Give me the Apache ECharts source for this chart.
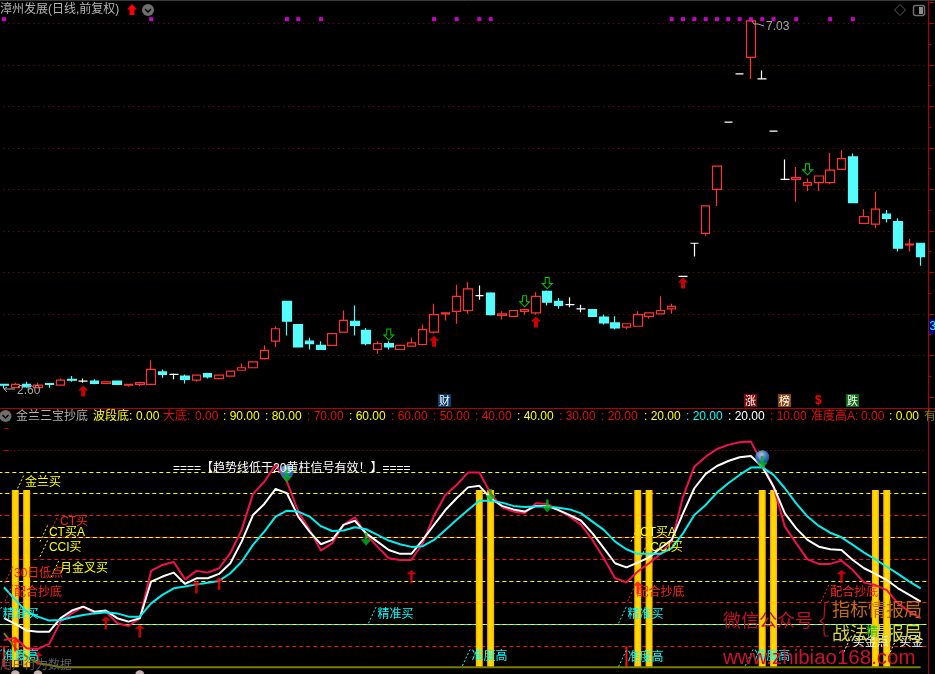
<!DOCTYPE html>
<html><head><meta charset="utf-8">
<style>html,body{margin:0;padding:0;background:#000;overflow:hidden}#c{width:935px;height:674px}</style>
<script src="https://cdn.jsdelivr.net/npm/echarts@6/dist/echarts.min.js"></script>
</head><body><div id="c"></div>
<script>
// ---- price candles (bar 0..81)
const opens=[2.65,2.61,2.65,2.61,2.66,2.64,2.71,2.69,2.69,2.66,2.69,2.64,2.65,2.65,2.80,2.77,2.75,2.70,2.78,2.72,2.75,2.82,2.85,2.96,3.17,3.65,3.37,3.17,3.12,3.12,3.28,3.41,3.30,3.07,3.14,3.07,3.11,3.13,3.28,3.50,3.53,3.54,3.72,3.75,3.48,3.47,3.53,3.51,3.77,3.65,3.61,3.56,3.55,3.46,3.39,3.34,3.35,3.47,3.50,3.56,3.95,4.35,4.47,5.00,5.81,6.39,6.59,6.33,5.70,5.12,5.12,5.05,5.08,5.08,5.24,5.39,4.59,4.58,4.70,4.61,4.33,4.35];
const closes=[2.64,2.65,2.62,2.64,2.65,2.70,2.70,2.69,2.66,2.68,2.65,2.65,2.67,2.83,2.77,2.77,2.71,2.76,2.74,2.76,2.81,2.85,2.92,3.06,3.32,3.41,3.10,3.14,3.07,3.26,3.42,3.36,3.14,3.14,3.10,3.12,3.15,3.31,3.49,3.51,3.71,3.80,3.72,3.49,3.50,3.54,3.55,3.71,3.64,3.60,3.61,3.56,3.47,3.39,3.33,3.38,3.49,3.51,3.54,3.59,3.95,4.35,4.80,5.28,5.81,6.39,7.03,6.33,5.70,5.12,5.14,5.08,5.16,5.23,5.37,4.84,4.67,4.76,4.65,4.29,4.34,4.19];
const lows=[2.60,2.61,2.61,2.60,2.61,2.64,2.68,2.67,2.65,2.66,2.65,2.62,2.63,2.65,2.73,2.71,2.66,2.68,2.72,2.72,2.75,2.82,2.85,2.95,3.10,3.24,3.10,3.07,3.07,3.12,3.28,3.24,3.12,3.02,3.07,3.07,3.11,3.12,3.26,3.42,3.38,3.50,3.67,3.48,3.43,3.47,3.49,3.49,3.60,3.56,3.58,3.52,3.46,3.37,3.31,3.31,3.35,3.44,3.50,3.50,3.95,4.19,4.44,4.80,5.81,6.39,6.33,6.33,5.70,5.12,4.85,4.98,4.98,5.06,5.24,4.84,4.59,4.53,4.60,4.25,4.25,4.08];
const highs=[2.65,2.67,2.68,2.67,2.66,2.72,2.75,2.72,2.71,2.68,2.69,2.65,2.68,2.94,2.83,2.78,2.77,2.76,2.79,2.76,2.81,2.90,2.92,3.12,3.35,3.65,3.37,3.21,3.17,3.27,3.54,3.60,3.33,3.17,3.17,3.12,3.21,3.37,3.62,3.52,3.85,3.88,3.84,3.76,3.53,3.54,3.55,3.76,3.78,3.69,3.70,3.61,3.55,3.49,3.47,3.38,3.53,3.51,3.71,3.62,3.95,4.35,4.80,5.28,5.81,6.39,7.03,6.43,5.70,5.36,5.27,5.13,5.16,5.44,5.47,5.43,4.76,4.97,4.75,4.65,4.40,4.35];
const priceLevelStep=0.5;
const limitBars=[0,13,25,26,28,38,40,42,43,59,60,61,62,63,64,65,66,67,68,70,73,75];
const limitPrice=7.05;
const buyArrowBars=[7,38,47,60];
const buyArrowPrices=[2.57,3.17,3.40,3.87];
const sellArrowBars=[34,46,48,71];
const sellArrowPrices=[3.25,3.65,3.87,5.24];
// ---- indicator lines
const fastLine=[2.9,3.8,-0.9,-1.2,1.1,11.3,15.1,18.2,15.1,15.9,10.6,9.3,12.9,34.6,37.3,38.7,30.7,34.6,33.8,35.8,42.7,53.4,69.9,75.5,83.2,75.5,61.8,53.4,43.9,47.3,55.7,59.2,51.1,45.7,40.4,39.6,39.6,47.3,59.9,69.4,74.0,79.7,79.7,70.2,63.8,61.8,61.0,65.6,65.3,62.5,59.5,55.7,48.8,40.4,31.2,29.4,34.3,38.1,42.4,48.0,68.7,82.4,87.0,90.5,92.4,93.6,93.9,84.0,73.2,54.9,47.3,39.9,37.8,37.8,39.3,35.0,29.2,28.1,25.8,19.7,15.9,12.9];
const midLine=[12.9,10.3,7.2,6.7,6.7,12.9,16.4,18.2,15.9,16.4,12.9,11.3,12.9,29.7,32.0,33.8,28.6,31.2,31.2,33.2,38.1,48.0,60.2,65.3,72.2,70.2,59.5,52.6,46.8,48.8,55.7,57.6,51.8,48.0,44.2,42.4,42.4,48.8,55.7,62.5,67.9,72.9,73.6,67.9,64.4,62.8,61.8,64.4,64.4,62.5,60.2,57.6,51.8,45.0,38.1,36.2,38.4,40.8,45.0,48.8,61.0,72.5,79.1,82.7,85.0,86.7,87.3,82.4,73.2,61.0,54.1,48.8,45.7,44.5,44.2,39.6,35.8,33.2,30.4,26.6,23.6,20.5];
const slowLine=[27.1,21.3,15.9,13.6,11.8,12.1,13.3,14.4,15.1,15.6,15.1,13.6,13.6,19.7,23.6,26.6,27.4,28.4,29.2,30.0,33.5,38.8,46.5,52.6,59.5,62.2,61.8,59.5,55.1,52.9,53.1,54.6,53.7,51.1,48.5,46.8,45.6,45.9,48.8,53.4,58.0,62.5,66.8,66.8,65.9,64.4,63.9,64.1,64.1,63.6,62.8,61.0,57.2,53.4,48.0,44.5,42.4,42.4,42.4,45.0,51.8,60.2,64.8,70.5,74.8,78.6,82.0,82.1,78.6,72.5,65.6,59.5,55.2,52.1,50.0,46.5,43.0,39.9,36.5,33.2,29.7,26.6];
const olivePart=[6.0,-0.9,-4.7,-7.8,-8.6];
const oliveFloor=-9.6;
const oliveLine=opens.map((_,i)=>i<olivePart.length?olivePart[i]:oliveFloor);
const goldBars=[1,2,42,43,56,57,67,68,77,78];
const goldTop=71.7, goldFloor=-9.6;
const redStickBars=[0,55];
const redStickTop=0;
const upBars=[1,3,9,12,17,19,36,56,74];
const upValues=[0.6,-5.5,10.7,7.0,27.2,28.8,32.0,26.9,32.0];
const downBars=[25,32,43,48,67];
const downValues=[78.1,49.1,69.3,64.4,84.3];
const ballBars=[25,67];
const ballValues=[80.1,86.7];
const dotBars=[1,3,12];
const dotValue=-13;
const redLevels=[60,50,40,20,0];
const yellowLevels=[80,70,50,30,10];
const cyanLevels=[10];
const dottedLevels=[90];
// ---- signal captions
const signalTexts=['金兰买','CT买','CT买A','CCI买','月金叉买','30日低点','配合抄底','精准买','准度高','精准买','准度高','精准买','准度高','配合抄底','CT买A','CCI买','配合抄底','准度高','买金点','买金'];
const signalBars=[1.85,4.95,3.97,3.97,4.95,0.88,0.88,-0.1,-0.1,33,41.3,55.1,55.1,55.9,56.2,57.1,73,66.3,75,79.1];
const signalValues=[74.9,57.2,52.1,45.2,35.8,33.2,24.8,14.7,-4.8,14.7,-4.8,14.7,-5.2,24.8,52.1,45.2,24.8,-4.8,1.5,1.5];
const signalColors=['#FFFF00','#FF2020','#FFFF00','#FFFF00','#FFFF00','#FF2020','#FF2020','#00FFFF','#00FFFF','#00FFFF','#00FFFF','#00FFFF','#00FFFF','#FF2020','#FFFF00','#FFFF00','#FF2020','#00FFFF','#FFFFFF','#FFFFFF'];
// ---- header legend of the lower panel
const legendTexts=['金兰三宝抄底','波段底:','0.00','大底:','0.00',': 90.00',': 80.00',': 70.00',': 60.00',': 60.00',': 50.00',': 40.00',': 40.00',': 30.00',': 20.00',': 20.00',': 20.00',': 20.00',': 10.00','准度高A:','0.00',': 0.00','有'];
const legendColors=['#B0B0B0','#FFFF00','#FFFF00','#E01010','#E01010','#FFFF00','#FFFF00','#E01010','#FFFF00','#E01010','#E01010','#E01010','#FFFF00','#E01010','#E01010','#FFFF00','#00FFFF','#FFFFFF','#E01010','#E01010','#E01010','#FFFF00','#808000'];
const legendLefts=[16,93,136,163,195,223,265,307,349,391,433,475,517,559,601,644,686,728,770,811,861,889,924];
const tagTexts=['财','涨','榜','跌'];
const tagLefts=[438,744,778,846];
const tagColors=['#0A3A6A','#7A0A0A','#8B4513','#0A6A14'];

const CJK='"Liberation Sans","Noto Sans CJK SC"';
const font12='12px '+CJK;
const RED='#FF3232',CY='#54FCFC';
const bars=opens.map((_,i)=>String(i));
const txt=(text,x,y,fill,font,z)=>({type:'text',z:z||50,style:{text,x,y,fill,font:font||font12,verticalAlign:'middle'}});
const hline=(x1,y1,x2,y2,c,w,z)=>({type:'line',z:z||40,shape:{x1,y1,x2,y2},style:{stroke:c,lineWidth:w||1}});
const chevron=(cx,cy)=>[
 {type:'circle',z:50,shape:{cx,cy,r:6},style:{fill:'#6E6E6E'}},
 {type:'polyline',z:51,shape:{points:[[cx-3,cy-1],[cx,cy+2],[cx+3,cy-1]]},style:{stroke:'#000',fill:null,lineWidth:1.4}}];

const graphics=[
 hline(0,0.5,935,0.5,'#3A3A3A',1),
 hline(0,408.5,935,408.5,'#B00000',1),
 hline(928.5,0,928.5,674,'#B00000',1),
 txt('漳州发展(日线,前复权)',0,10,'#B4B4B4'),
 {type:'polygon',z:50,shape:{points:[[132,4],[137,9.5],[134.5,9.5],[134.5,15],[129.5,15],[129.5,9.5],[127,9.5]]},style:{fill:'#FF0000'}},
 ...chevron(148,10),
 ...chevron(5.5,416),
 {type:'polygon',z:50,shape:{points:[[900,4.5],[905.5,10],[900,15.5],[894.5,10]]},style:{stroke:'#5A5A5A',fill:null}},
 {type:'rect',z:50,shape:{x:913.5,y:5.5,width:11,height:10,r:2},style:{stroke:'#6E6E6E',fill:null,lineWidth:1.5}},
 {type:'rect',z:50,shape:{x:919,y:7,width:4,height:7},style:{fill:'#8A8A8A'}},
 {type:'polyline',z:50,shape:{points:[[752,21],[754,24],[758,24],[764,26]]},style:{stroke:'#A8A8A8',fill:null}},
 txt('7.03',766,27,'#A8A8A8'),
 {type:'polyline',z:50,shape:{points:[[15,389],[4,389],[7,387]]},style:{stroke:'#A8A8A8',fill:null}},
 {type:'polyline',z:50,shape:{points:[[4,389],[7,392]]},style:{stroke:'#A8A8A8',fill:null}},
 txt('2.60',17,390.5,'#A8A8A8'),
 {type:'rect',z:50,shape:{x:929,y:319,width:6,height:15},style:{fill:'#000080'}},
 txt('3',929.5,326.5,'#00FFFF'),
 ...tagTexts.flatMap((t,i)=>[
   {type:'rect',z:50,shape:{x:tagLefts[i],y:394,width:13,height:13},style:{fill:tagColors[i]}},
   txt(t,tagLefts[i]+1,400.5,'#FFFFFF','11px "Noto Sans CJK SC"')]),
 txt('$',815,401,'#FF0000','bold 12px "Liberation Sans"'),
 ...legendTexts.map((t,i)=>txt(t,legendLefts[i],416.5,legendColors[i])),
 txt('====【趋势线低于20黄柱信号有效！】====',173,468.5,'#FFFFFF'),
 txt('用户行为数据',0,666,'#5E5E5E'),
 txt('微信公众号',723,620,'#C01028','18px "Noto Sans CJK SC"'),
 {type:'polyline',z:50,shape:{points:[[829,601],[825,603],[824,618],[820,621],[824,624],[824,633],[825,636],[829,636]]},style:{stroke:'#C01028',fill:null,lineWidth:1.2}},
 txt('指标情报局',832,609,'#C46A10','18px "Noto Sans CJK SC"'),
 txt('战法情报局',832,633,'#D8D840','18px "Noto Sans CJK SC"'),
 txt('精',866,633,'#20D020'),
 txt('www.zhibiao168.com',723,658,'#D01030','20.5px "Liberation Sans"'),
];

const signalItem=(p,api)=>{
  const pt=api.coord([api.value(0),api.value(1)]);
  const i=p.dataIndex;
  return {type:'group',children:[
    {type:'line',shape:{x1:pt[0]-9,y1:pt[1]+9,x2:pt[0]-1,y2:pt[1]-8},style:{stroke:signalColors[i],lineWidth:1,lineDash:[2,2]}},
    {type:'text',style:{text:signalTexts[i],x:pt[0],y:pt[1],fill:signalColors[i],font:font12,verticalAlign:'middle'}}
  ]};
};
const columnItem=(width,top,floor,fill)=>(p,api)=>{
  const a=api.coord([api.value(0),top]),b=api.coord([api.value(0),floor]);
  return {type:'rect',shape:{x:a[0]-width/2,y:a[1],width,height:b[1]-a[1]},style:{fill}};
};
const levelItems=[
 ...dottedLevels.map(v=>({yAxis:v,lineStyle:{color:'#C00000',type:[1,3],width:1}})),
 ...redLevels.map(v=>({yAxis:v,lineStyle:{color:'#F01414',type:[4,3],width:1}})),
 ...cyanLevels.map(v=>({yAxis:v,lineStyle:{color:'#00FFFF',type:[4,3],dashOffset:3.5,width:1}})),
 ...yellowLevels.map(v=>({yAxis:v,lineStyle:{color:'#FFFF00',type:[4,3],dashOffset:v===50?3.5:0,width:1}})),
];
const arrowUpBig='path://M5 0L10 5L7 5L7 11L3 11L3 5L0 5Z';
const arrowDownHollow='path://M3 0L7 0L7 6L10 6L5 11L0 6L3 6Z';
const arrowUpThin='path://M4 0L8 4L5 4L5 12L3 12L3 4L0 4Z';
const arrowDownThin='path://M3 0L5 0L5 6L8 6L4 12L0 6L3 6Z';

const chart=echarts.init(document.getElementById('c'),null,{renderer:'canvas'});
chart.setOption({
 animation:false,backgroundColor:'#000',
 grid:[{left:-1.66,width:928,top:2.55,height:394.25,outerBoundsMode:'none'},{left:-1.66,width:928,top:428.3,height:261.6,outerBoundsMode:'none'}],
 xAxis:[
  {type:'category',data:bars,gridIndex:0,show:false},
  {type:'category',data:bars,gridIndex:1,show:false},
  {type:'value',min:-0.5,max:81.5,gridIndex:1,show:false}],
 yAxis:[
  {type:'value',gridIndex:0,position:'right',offset:2,min:2.5,max:7.25,interval:priceLevelStep,
   axisLabel:{show:false},axisLine:{show:false},
   axisTick:{show:true,length:6,lineStyle:{color:'#B00000'}},
   minorTick:{show:true,splitNumber:2,length:3,lineStyle:{color:'#B00000'}},
   splitLine:{show:true,showMinLine:false,showMaxLine:false,lineStyle:{color:'#8C1010',type:[1,4],width:1}}},
  {type:'value',gridIndex:1,position:'right',offset:2,min:-20,max:100,interval:10,
   axisLabel:{show:false},axisLine:{show:false},
   axisTick:{show:true,length:5,lineStyle:{color:'#B00000'}},
   splitLine:{show:false}}],
 series:[
  {type:'candlestick',name:'K',xAxisIndex:0,yAxisIndex:0,barWidth:9,z:3,
   data:opens.map((o,i)=>[o,closes[i],lows[i],highs[i]]),
   itemStyle:{color:'#000',color0:CY,borderColor:RED,borderColor0:CY,borderColorDoji:'#FFFFFF',borderWidth:1.2}},
  {type:'scatter',xAxisIndex:0,yAxisIndex:0,symbol:'rect',symbolSize:4,z:4,itemStyle:{color:'#FF00FF'},
   data:limitBars.map(i=>[i,limitPrice])},
  {type:'scatter',xAxisIndex:0,yAxisIndex:0,symbol:arrowUpBig,symbolSize:[10,11],z:4,itemStyle:{color:'#FF0000'},
   data:buyArrowBars.map((b,i)=>[b,buyArrowPrices[i]])},
  {type:'scatter',xAxisIndex:0,yAxisIndex:0,symbol:arrowDownHollow,symbolSize:[10,11],z:4,
   itemStyle:{color:'transparent',borderColor:'#00FF00',borderWidth:1},
   data:sellArrowBars.map((b,i)=>[b,sellArrowPrices[i]])},
  {type:'line',name:'olive',xAxisIndex:1,yAxisIndex:1,data:oliveLine,showSymbol:false,z:3,
   lineStyle:{color:'#7C7C00',width:2},
   markLine:{silent:true,symbol:'none',z:1,label:{show:false},data:levelItems}},
  {type:'custom',xAxisIndex:1,yAxisIndex:1,z:2,clip:false,data:goldBars.map(b=>[b]),
   renderItem:columnItem(7,goldTop,goldFloor,{type:'linear',x:0,y:0,x2:1,y2:0,colorStops:[{offset:0,color:'#FFA800'},{offset:0.3,color:'#FFD800'},{offset:0.7,color:'#FFD800'},{offset:1,color:'#FFA800'}]})},
  {type:'custom',xAxisIndex:1,yAxisIndex:1,z:2,clip:false,data:redStickBars.map(b=>[b]),
   renderItem:columnItem(2,redStickTop,goldFloor,'#FF1010')},
  {type:'line',name:'fast',xAxisIndex:1,yAxisIndex:1,data:fastLine,showSymbol:false,z:4,lineStyle:{color:'#F0104F',width:2}},
  {type:'line',name:'mid',xAxisIndex:1,yAxisIndex:1,data:midLine,showSymbol:false,z:4,lineStyle:{color:'#FFFFFF',width:2}},
  {type:'line',name:'slow',xAxisIndex:1,yAxisIndex:1,data:slowLine,showSymbol:false,z:4,lineStyle:{color:'#00F0F0',width:2}},
  {type:'scatter',xAxisIndex:1,yAxisIndex:1,symbol:arrowUpThin,symbolSize:[10,13],z:5,itemStyle:{color:'#FF0000'},
   data:upBars.map((b,i)=>[b,upValues[i]])},
  {type:'scatter',xAxisIndex:1,yAxisIndex:1,symbol:'circle',symbolSize:14,z:5,
   itemStyle:{color:{type:'radial',x:0.45,y:0.3,r:0.75,colorStops:[{offset:0,color:'#E8F4FF'},{offset:0.45,color:'#4A9CF5'},{offset:1,color:'#123F9A'}]}},
   data:ballBars.map((b,i)=>[b,ballValues[i]])},
  {type:'scatter',xAxisIndex:1,yAxisIndex:1,symbol:arrowDownThin,symbolSize:[11,13],z:6,itemStyle:{color:'#00B81E'},
   data:downBars.map((b,i)=>[b,downValues[i]])},
  {type:'scatter',xAxisIndex:1,yAxisIndex:1,symbol:'circle',symbolSize:9,z:5,itemStyle:{color:'#F8D8D8'},
   data:dotBars.map(b=>[b,dotValue])},
  {type:'custom',xAxisIndex:2,yAxisIndex:1,z:7,clip:false,
   data:signalBars.map((b,i)=>[b,signalValues[i]]),renderItem:signalItem},
 ],
 graphic:{elements:graphics}
});
</script></body></html>
